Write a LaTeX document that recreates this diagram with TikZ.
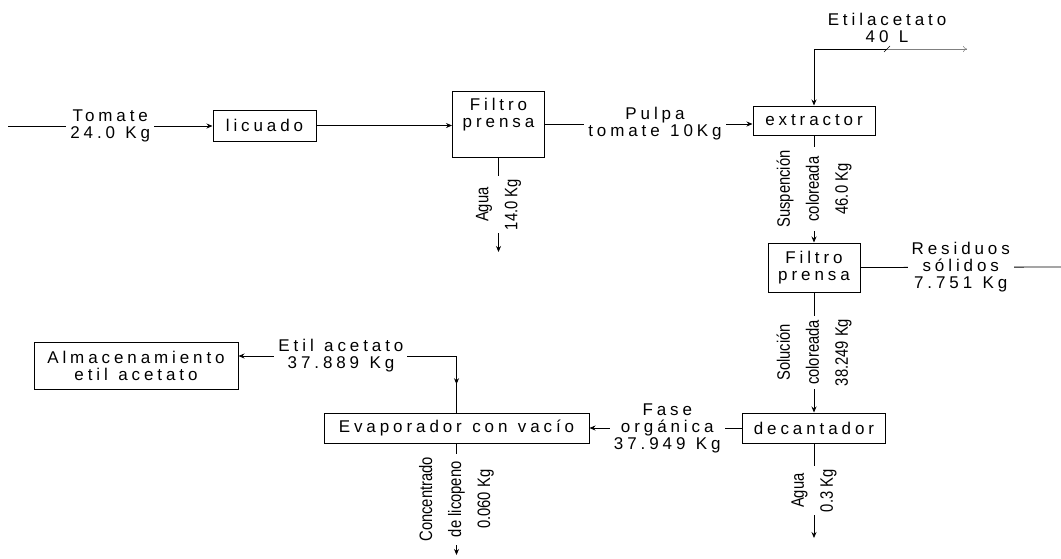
\documentclass[tikz,border=0pt]{standalone}
\usepackage{fontspec}
\setmainfont{Liberation Sans}
\newfontfamily\spacedfont{Liberation Sans}[LetterSpace=23,WordSpace=1.2]
\newfontfamily\narrowfont{Liberation Sans}[FakeStretch=0.82]
\usetikzlibrary{arrows.meta,decorations.markings}
\tikzstyle{unit} = [rectangle,
                    draw=black,
                    line width=1pt,
                    inner sep=0pt,
                    text centered,
                    align=center,
                    font=\spacedfont\fontsize{17}{17}\selectfont]
\tikzstyle{stream} = [fill=white,
                      align=center,
                      inner xsep=4pt,
                      inner ysep=1pt,
                      font=\spacedfont\fontsize{17}{17}\selectfont]
\tikzstyle{vstream} = [fill=white,
                       rotate=90,
                       align=center,
                       inner xsep=3pt,
                       inner ysep=0pt,
                       font=\narrowfont\fontsize{18}{29}\selectfont]
\tikzstyle{flow} = [line width=0.8pt,
                    ->]
\tikzstyle{midflow} = [line width=0.8pt,
                       postaction={decorate},
                       decoration={markings,
                                   mark=at position 0.5 with {\arrow{Stealth[length=6pt,width=5pt]}}}]

\begin{document}
\begin{tikzpicture}[x=1pt, y=-1pt, >={Stealth[length=6pt,width=5pt]}]
    \useasboundingbox (0,0) rectangle (1061,558);

    % equipos
    \node (licuado)    [unit, minimum width=103pt, minimum height=31pt] at (264.5,125.5) {licuado};
    \node (filtro1)    [unit, minimum width=92pt,  minimum height=66pt] at (498.5,124)   {Filtro\\prensa\\\strut};
    \node (extractor)  [unit, minimum width=122pt, minimum height=29pt] at (814,120.5)   {extractor};
    \node (filtro2)    [unit, minimum width=92pt,  minimum height=49pt] at (814,267.5)   {Filtro\\prensa};
    \node (decantador) [unit, minimum width=143pt, minimum height=30pt] at (814,428)     {decantador};
    \node (evaporador) [unit, minimum width=265pt, minimum height=30pt] at (456.5,428)   {Evaporador con vacío};
    \node (almacen)    [unit, minimum width=204pt, minimum height=47pt] at (136,365.5)   {Almacenamiento\\etil acetato};

    % entradas y salidas
    \coordinate (tomate)   at (8,126);
    \coordinate (agua1)    at (498.5,252);
    \coordinate (etil)     at (814,49);
    \coordinate (etiltick) at (887,49);
    \coordinate (etilout)  at (967,49);
    \coordinate (residuos) at (1061,267);
    \coordinate (agua2)    at (814,538);
    \coordinate (licopeno) at (456.5,555);
    \coordinate (recirc)   at (456.5,356);

    \draw [flow] (tomate) -- node[stream] {Tomate\\24.0 Kg} (tomate -| licuado.west);
    \draw [flow] (licuado.east) -- (licuado.east -| filtro1.west);
    \draw [flow] (filtro1.east) -- node[stream, pos=0.53] {Pulpa\\tomate 10Kg} (filtro1.east -| extractor.west);
    \draw [flow] (filtro1.south) -- node[vstream] {Agua\\14.0 Kg} (agua1);

    \draw [flow] (etil) -- (extractor.north);
    \draw [line width=0.8pt] (etil) -- (etiltick);
    \draw [gray, line width=0.5pt, -{To[length=4pt,width=6pt]}] (etiltick) -- (etilout);
    \draw [line width=0.6pt] ([shift={(-3,3)}]etiltick) -- node[stream, fill=none, above=5pt] {Etilacetato\\40 L} ([shift={(3,-3)}]etiltick);

    \draw [flow] (extractor.south) -- node[vstream] {Suspención\\coloreada\\46.0 Kg} (filtro2.north);
    \draw [line width=0.8pt] (filtro2.east) -- node[stream] {Residuos\\sólidos\\7.751 Kg} (residuos);
    \draw [flow] (filtro2.south) -- node[vstream] {Solución\\coloreada\\38.249 Kg} (decantador.north);
    \draw [flow] (decantador.south) -- node[vstream] {Agua\\0.3 Kg} (agua2);
    \draw [flow] (decantador.west) -- node[stream, pos=0.49] {Fase\\orgánica\\37.949 Kg} (evaporador.east);
    \draw [flow] (evaporador.south) -- node[vstream] {Concentrado\\de licopeno\\0.060 Kg} (licopeno);

    \draw [flow] (recirc) -- node[stream, pos=0.53] {Etil acetato\\37.889 Kg} (recirc -| almacen.east);
    \draw [midflow] (recirc) -- (evaporador.north);

\end{tikzpicture}
\end{document}
